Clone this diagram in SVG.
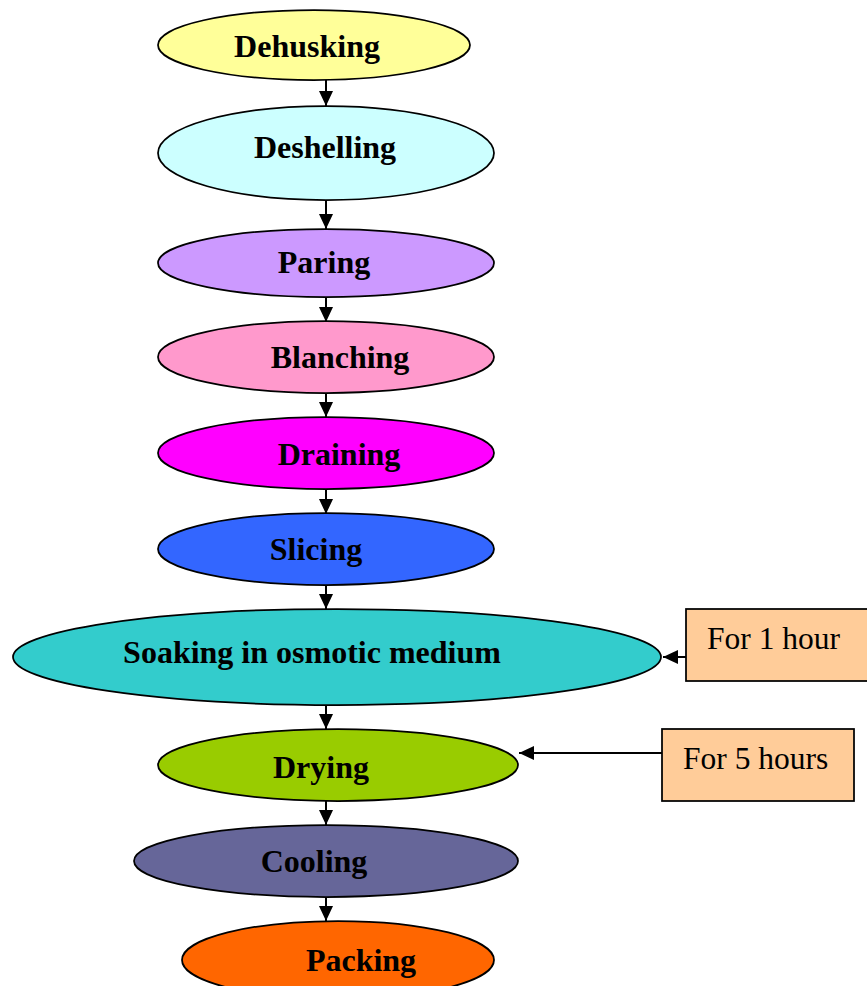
<svg xmlns="http://www.w3.org/2000/svg" width="867" height="986" viewBox="0 0 867 986">
<defs>
<style>
.n{stroke:#000;stroke-width:1.75}
.t{font-family:"Liberation Serif","Times New Roman",serif;font-weight:bold;font-size:32px;fill:#000;text-anchor:middle}
.r{font-family:"Liberation Serif","Times New Roman",serif;font-size:31.5px;fill:#000}
.b{fill:#FFCC99;stroke:#000;stroke-width:1.75}
.c{stroke:#000;stroke-width:2;fill:none}
</style>
<marker id="ah" markerUnits="userSpaceOnUse" markerWidth="15" markerHeight="14" viewBox="0 0 15 14" refX="15" refY="7" orient="auto">
<path d="M0,0 L15,7 L0,14 z" fill="#000"/>
</marker>
</defs>
<rect width="867" height="986" fill="#fff"/>
<g id="connectors">
<line class="c" x1="326" y1="80" x2="326" y2="106" marker-end="url(#ah)"/>
<line class="c" x1="326" y1="200" x2="326" y2="229" marker-end="url(#ah)"/>
<line class="c" x1="326" y1="297" x2="326" y2="322" marker-end="url(#ah)"/>
<line class="c" x1="326" y1="393" x2="326" y2="417" marker-end="url(#ah)"/>
<line class="c" x1="326" y1="489" x2="326" y2="514" marker-end="url(#ah)"/>
<line class="c" x1="326" y1="585" x2="326" y2="609" marker-end="url(#ah)"/>
<line class="c" x1="326" y1="705" x2="326" y2="729" marker-end="url(#ah)"/>
<line class="c" x1="326" y1="801" x2="326" y2="825" marker-end="url(#ah)"/>
<line class="c" x1="326" y1="897" x2="326" y2="921" marker-end="url(#ah)"/>
<line class="c" x1="686" y1="657" x2="663" y2="657" marker-end="url(#ah)"/>
<line class="c" x1="662" y1="753" x2="519" y2="753" marker-end="url(#ah)"/>
</g>
<g id="dehusking"><ellipse class="n" cx="314" cy="45" rx="156" ry="35" fill="#FFFF99"/><text class="t" x="307" y="57">Dehusking</text></g>
<g id="deshelling"><ellipse class="n" cx="326" cy="153" rx="168" ry="47" fill="#CCFFFF"/><text class="t" x="325" y="158">Deshelling</text></g>
<g id="paring"><ellipse class="n" cx="326" cy="263" rx="168" ry="34" fill="#CC99FF"/><text class="t" x="324" y="273">Paring</text></g>
<g id="blanching"><ellipse class="n" cx="326" cy="357" rx="168" ry="36" fill="#FF99CC"/><text class="t" x="340" y="368">Blanching</text></g>
<g id="draining"><ellipse class="n" cx="326" cy="453" rx="168" ry="36" fill="#FF00FF"/><text class="t" x="339" y="465">Draining</text></g>
<g id="slicing"><ellipse class="n" cx="326" cy="549" rx="168" ry="36" fill="#3366FF"/><text class="t" x="316" y="560">Slicing</text></g>
<g id="soaking"><ellipse class="n" cx="337" cy="657" rx="324" ry="48" fill="#33CCCC"/><text class="t" x="312" y="663">Soaking in osmotic medium</text></g>
<g id="drying"><ellipse class="n" cx="338" cy="765" rx="180" ry="36" fill="#99CC00"/><text class="t" x="321" y="778">Drying</text></g>
<g id="cooling"><ellipse class="n" cx="326" cy="861" rx="192" ry="36" fill="#666699"/><text class="t" x="314" y="872">Cooling</text></g>
<g id="packing"><ellipse class="n" cx="338" cy="960" rx="156" ry="39" fill="#FF6600"/><text class="t" x="361" y="971">Packing</text></g>
<g id="for1hour"><rect class="b" x="686" y="609" width="190" height="72"/><text class="r" x="707" y="649">For 1 hour</text></g>
<g id="for5hours"><rect class="b" x="662" y="729" width="192" height="72"/><text class="r" x="683" y="769">For 5 hours</text></g>
</svg>
